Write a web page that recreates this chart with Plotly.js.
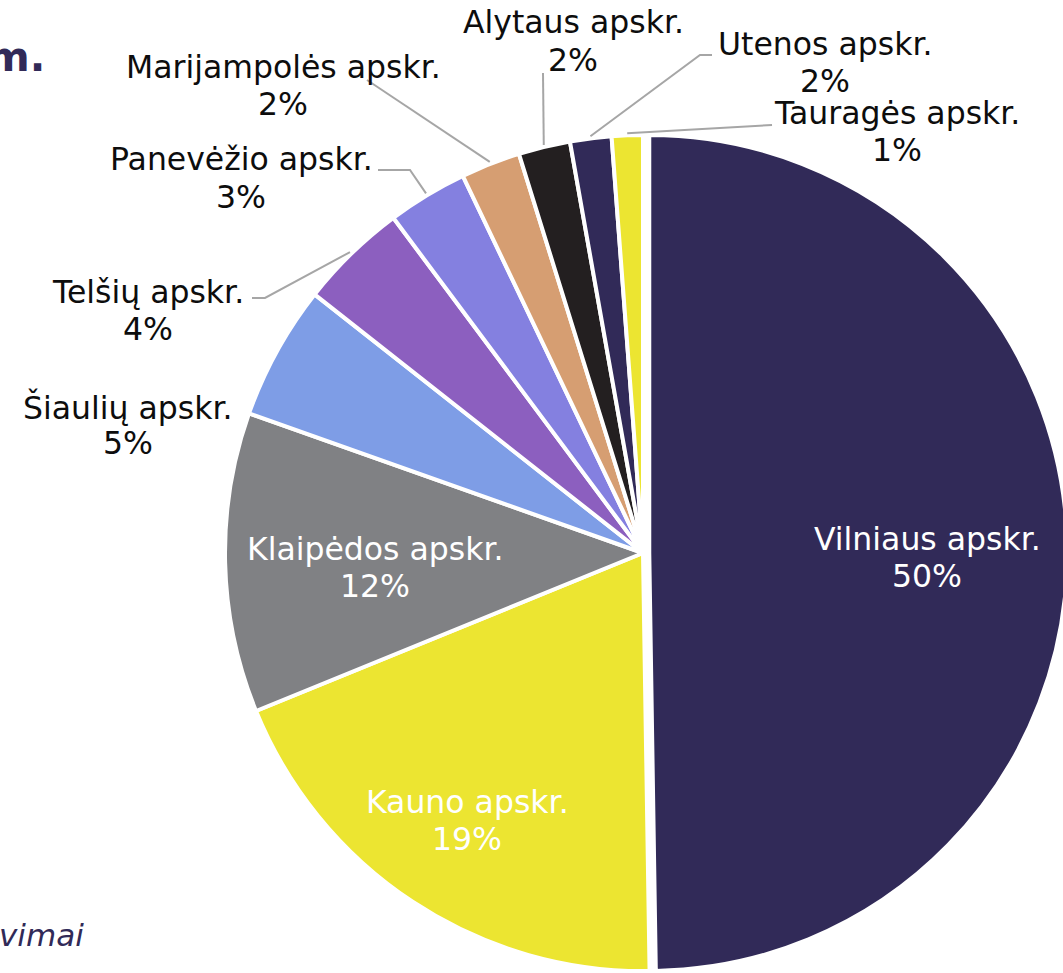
<!DOCTYPE html>
<html>
<head>
<meta charset="utf-8">
<script src="https://cdn.plot.ly/plotly-3.0.1.min.js"></script>
<style>html,body{margin:0;padding:0;overflow:hidden;background:#fff}</style>
</head>
<body>
<div id="myDiv"></div>
<script>
var counties = ["Vilniaus apskr.", "Kauno apskr.", "Klaipėdos apskr.", "Šiaulių apskr.", "Telšių apskr.",
  "Panevėžio apskr.", "Marijampolės apskr.", "Alytaus apskr.", "Utenos apskr.", "Tauragės apskr."];
var shares = [49.8, 19.1, 11.6, 5.2, 4.2, 3.1, 2.3, 2.0, 1.6, 1.2];

var sliceColors = ["#312a58", "#ece531", "#808184", "#7e9de6", "#8c5fbf",
  "#8480e0", "#d69e72", "#231f20", "#312a58", "#ece531"];

// page geometry (px)
var W = 1080, H = 990;
var cx = 643, cy = 553, R = 418, PULL = 0.015;
var FS = 31.5, LINE_GAP = 37;

// label block centres (px) and leader line starts
var labelPos = [[927, 557], [467, 820], [375, 567], [128, 425], [148, 310],
  [241, 178], [283, 86], [573, 41], [825, 62], [897, 131]];
var insideLabel = [true, true, true, false, false, false, false, false, false, false];
var leaderStart = [null, null, null, null, [[252, 298], [265, 298]], [[378, 170], [410, 170]],
  [[367, 80]], [[543, 73]], [[712, 55], [700, 55]], [[772, 125]]];

var half = R * (1 + PULL);
var domain = {
  x: [(cx - half) / W, (cx + half) / W],
  y: [1 - (cy + half) / H, 1 - (cy - half) / H]
};

var total = shares.reduce(function (a, b) { return a + b; }, 0);

var px = function (x) { return x / W; };
var py = function (y) { return 1 - y / H; };

var annotations = [];
var shapes = [];
var cum = 0;
shares.forEach(function (v, i) {
  var mid = (cum + v / 2) / total * 2 * Math.PI;
  cum += v;
  var pct = Math.round(v / total * 100) + "%";
  var font = {family: "DejaVu Sans", size: FS, color: insideLabel[i] ? "#ffffff" : "#0d0d0d"};
  [counties[i], pct].forEach(function (t, k) {
    annotations.push({
      xref: "paper", yref: "paper",
      x: px(labelPos[i][0]), y: py(labelPos[i][1] + (k - 0.5) * LINE_GAP),
      xanchor: "center", yanchor: "middle",
      text: t, showarrow: false, font: font
    });
  });
  if (leaderStart[i]) {
    var hx = cx + (R + 2) * Math.sin(mid);
    var hy = cy - (R + 2) * Math.cos(mid);
    var pts = leaderStart[i].concat([[hx, hy]]);
    var d = pts.map(function (p, k) {
      return (k ? "L" : "M") + px(p[0]) + "," + py(p[1]);
    }).join(" ");
    shapes.push({type: "path", xref: "paper", yref: "paper", path: d,
      line: {color: "#a6a6a6", width: 2}});
  }
});

// clipped slide text around the chart
annotations.push({
  xref: "paper", yref: "paper", x: px(47), y: py(57), xanchor: "right", yanchor: "middle",
  text: "<b>m.</b>", showarrow: false,
  font: {family: "DejaVu Sans", size: 41, color: "#312a58"}
});
annotations.push({
  xref: "paper", yref: "paper", x: px(-3), y: py(935), xanchor: "left", yanchor: "middle",
  text: "<i>vimai</i>", showarrow: false,
  font: {family: "DejaVu Sans", size: 31, color: "#312a58"}
});

var trace = {
  type: "pie",
  labels: counties,
  values: shares,
  sort: false,
  direction: "clockwise",
  rotation: 0,
  pull: shares.map(function (v, i) { return i === 0 ? PULL : 0; }),
  marker: {colors: sliceColors, line: {color: "#ffffff", width: 4}},
  textinfo: "none",
  hoverinfo: "label+percent",
  domain: domain
};

var layout = {
  width: W,
  height: H,
  margin: {l: 0, r: 0, t: 0, b: 0},
  showlegend: false,
  paper_bgcolor: "#ffffff",
  annotations: annotations,
  shapes: shapes
};

Plotly.newPlot("myDiv", [trace], layout, {displayModeBar: false});
</script>
</body>
</html>
